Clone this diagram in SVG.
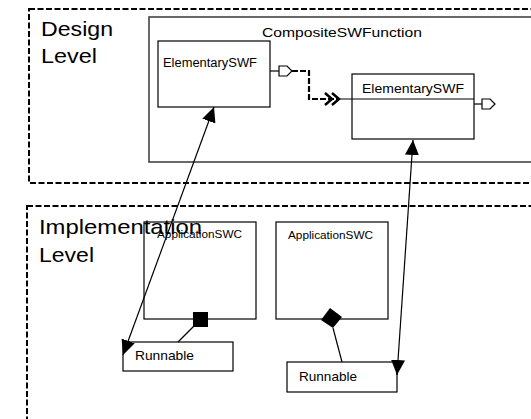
<svg xmlns="http://www.w3.org/2000/svg" width="531" height="419" viewBox="0 0 531 419">
<style>
text{font-family:"Liberation Sans",Arial,Helvetica,sans-serif;fill:#000}
.bound{fill:none;stroke:#000;stroke-width:2;stroke-dasharray:6 2.5}
.comp{fill:#fff;stroke:#444;stroke-width:1.6}
.box{fill:#fff;stroke:#000;stroke-width:1.2}
.big{font-size:21px}
.port{fill:#fff;stroke:#000;stroke-width:1.2}
.thin{fill:none;stroke:#000;stroke-width:1.2}
</style>
<defs>
<marker id="tri" viewBox="0 0 15 14" refX="15" refY="7" markerWidth="15" markerHeight="14" markerUnits="userSpaceOnUse" orient="auto-start-reverse">
<path d="M0,0 L15,7 L0,14 z" fill="#000"/>
</marker>
</defs>
<g id="design-level">
<rect class="bound" x="29" y="9" width="520" height="174"/>
<text class="big" x="41" y="36" textLength="72" lengthAdjust="spacingAndGlyphs">Design</text>
<text class="big" x="41" y="63" textLength="56" lengthAdjust="spacingAndGlyphs">Level</text>
</g>
<g id="implementation-level">
<rect class="bound" x="27" y="206" width="520" height="230"/>
</g>
<g id="composite">
<rect class="comp" x="149" y="17" width="400" height="145"/>
<text x="262" y="37" font-size="13" textLength="160" lengthAdjust="spacingAndGlyphs">CompositeSWFunction</text>
</g>
<g id="elementary1">
<rect class="box" x="158" y="41" width="112" height="66"/>
<text x="163" y="67" font-size="12" textLength="94" lengthAdjust="spacingAndGlyphs">ElementarySWF</text>
<line class="thin" x1="270" y1="71" x2="279" y2="71"/>
<path class="port" d="M279,66 H287 L292,71 L287,76 H279 z"/>
</g>
<g id="elementary2">
<rect class="box" x="352" y="74" width="122" height="65"/>
<text x="362" y="93" font-size="12" textLength="102" lengthAdjust="spacingAndGlyphs">ElementarySWF</text>
<line class="thin" x1="474" y1="104" x2="482" y2="104"/>
<path class="port" d="M482,99 H490 L495,104 L490,109 H482 z"/>
</g>
<g id="appswc1">
<rect class="box" x="144" y="222" width="112" height="97" stroke-width="1.5"/>
<text x="157" y="238" font-size="11" textLength="85" lengthAdjust="spacingAndGlyphs">ApplicationSWC</text>
<rect x="193" y="312" width="15" height="15" fill="#000"/>
</g>
<g id="appswc2">
<rect class="box" x="276" y="222" width="112" height="97" stroke-width="1.5"/>
<text x="288" y="239" font-size="11" textLength="85" lengthAdjust="spacingAndGlyphs">ApplicationSWC</text>
<path d="M330,308 L342,317 L333,328 L321,320 z" fill="#000"/>
</g>
<g id="runnable1">
<rect class="box" x="123" y="342" width="110" height="29"/>
<text x="135" y="360" font-size="13" textLength="59" lengthAdjust="spacingAndGlyphs">Runnable</text>
</g>
<g id="runnable2">
<rect class="box" x="287" y="362" width="110" height="30"/>
<text x="299" y="381" font-size="13" textLength="58" lengthAdjust="spacingAndGlyphs">Runnable</text>
</g>
<text class="big" x="39" y="234" textLength="163" lengthAdjust="spacingAndGlyphs">Implementation</text>
<text class="big" x="39" y="262" textLength="55" lengthAdjust="spacingAndGlyphs">Level</text>
<g id="connectors">
<path d="M292,71 H309 V99 H338" fill="none" stroke="#000" stroke-width="2.2" stroke-dasharray="6 2"/>
<path d="M325,93 L332,99 L325,105 M332,93 L339,99 L332,105" fill="none" stroke="#000" stroke-width="2.5"/>
<line class="thin" x1="339" y1="99" x2="474" y2="99"/>
<line class="thin" x1="194" y1="326" x2="178" y2="342"/>
<line class="thin" x1="333" y1="328" x2="342" y2="362"/>
<line x1="214" y1="107" x2="123" y2="355" stroke="#000" stroke-width="1.2" marker-start="url(#tri)" marker-end="url(#tri)"/>
<line x1="413" y1="140" x2="397" y2="375" stroke="#000" stroke-width="1.2" marker-start="url(#tri)" marker-end="url(#tri)"/>
</g>
</svg>
